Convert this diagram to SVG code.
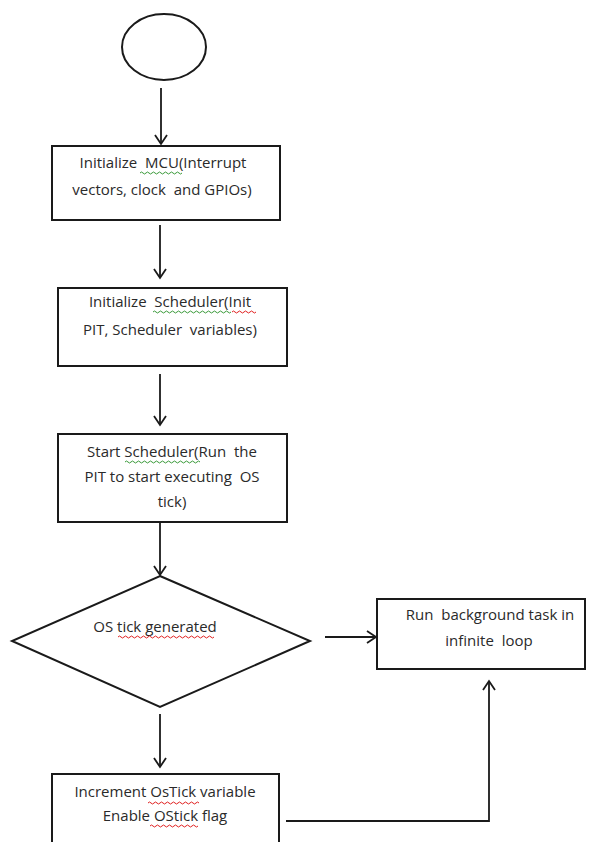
<svg xmlns="http://www.w3.org/2000/svg" width="597" height="842" viewBox="0 0 597 842">
<defs>
<style>
.shape{fill:#fff;stroke:#1a1a1a;stroke-width:2}
.conn{fill:none;stroke:#1a1a1a;stroke-width:1.8}
.t{font-family:"Open Sans","Liberation Sans",Arial,sans-serif;font-size:15px;fill:#2a2a2a;text-anchor:middle;white-space:pre}
.sq-red{fill:none;stroke:#e02020;stroke-width:1}
.sq-green{fill:none;stroke:#3a9a3a;stroke-width:1}
</style>
<marker id="arr" markerWidth="12" markerHeight="14" refX="10" refY="7" orient="auto" markerUnits="userSpaceOnUse">
<path d="M1,1 L10,7 L1,13" fill="none" stroke="#1a1a1a" stroke-width="1.8"/>
</marker>
</defs>
<rect width="597" height="842" fill="#fff"/>

<g id="start">
<ellipse class="shape" cx="164" cy="47" rx="42" ry="33"/>
</g>

<g id="init-mcu">
<rect class="shape" x="52" y="146" width="228" height="74"/>
<text class="t" x="163" y="168" xml:space="preserve">Initialize  MCU(Interrupt</text>
<text class="t" x="162" y="195" xml:space="preserve">vectors, clock  and GPIOs)</text>
<path class="sq-green" d="M140,173 q1.5,-2 3,0 t3,0 t3,0 t3,0 t3,0 t3,0 t3,0 t3,0 t3,0 t3,0 t3,0 t3,0 t3,0 t3,0"/>
</g>

<g id="init-scheduler">
<rect class="shape" x="58" y="288" width="229" height="78"/>
<text class="t" x="170" y="307" xml:space="preserve">Initialize  Scheduler(Init</text>
<text class="t" x="170" y="335" xml:space="preserve">PIT, Scheduler  variables)</text>
<path class="sq-green" d="M153,312 q1.5,-2 3,0 t3,0 t3,0 t3,0 t3,0 t3,0 t3,0 t3,0 t3,0 t3,0 t3,0 t3,0 t3,0 t3,0 t3,0 t3,0 t3,0 t3,0 t3,0 t3,0 t3,0 t3,0 t3,0 t3,0 t3,0 t3,0"/>
<path class="sq-red" d="M232,312 q1.5,-2 3,0 t3,0 t3,0 t3,0 t3,0 t3,0 t3,0 t3,0"/>
</g>

<g id="start-scheduler">
<rect class="shape" x="58" y="434" width="229" height="88"/>
<text class="t" x="172" y="457" xml:space="preserve">Start Scheduler(Run  the</text>
<text class="t" x="172" y="482" xml:space="preserve">PIT to start executing  OS</text>
<text class="t" x="172" y="507">tick)</text>
<path class="sq-green" d="M125,462 q1.5,-2 3,0 t3,0 t3,0 t3,0 t3,0 t3,0 t3,0 t3,0 t3,0 t3,0 t3,0 t3,0 t3,0 t3,0 t3,0 t3,0 t3,0 t3,0 t3,0 t3,0 t3,0 t3,0 t3,0 t3,0 t3,0"/>
</g>

<g id="os-tick-decision">
<polygon class="shape" points="160,576 310,641 160,707 12,641"/>
<text class="t" x="155" y="632">OS tick generated</text>
<path class="sq-red" d="M118,637 q1.5,-2 3,0 t3,0 t3,0 t3,0 t3,0 t3,0 t3,0 t3,0 t3,0 t3,0 t3,0 t3,0 t3,0 t3,0 t3,0 t3,0 t3,0 t3,0 t3,0 t3,0 t3,0 t3,0 t3,0 t3,0 t3,0 t3,0 t3,0 t3,0 t3,0 t3,0 t3,0 t3,0"/>
</g>

<g id="background-task">
<rect class="shape" x="377" y="599" width="208" height="70"/>
<text class="t" x="490" y="620" xml:space="preserve">Run  background task in</text>
<text class="t" x="489" y="646" xml:space="preserve">infinite  loop</text>
</g>

<g id="increment-ostick">
<rect class="shape" x="52" y="774" width="227" height="80"/>
<text class="t" x="165" y="797">Increment OsTick variable</text>
<text class="t" x="165" y="821">Enable OStick flag</text>
<path class="sq-red" d="M148,803 q1.5,-2 3,0 t3,0 t3,0 t3,0 t3,0 t3,0 t3,0 t3,0 t3,0 t3,0 t3,0 t3,0 t3,0 t3,0 t3,0 t3,0 t3,0"/>
<path class="sq-red" d="M150,826 q1.5,-2 3,0 t3,0 t3,0 t3,0 t3,0 t3,0 t3,0 t3,0 t3,0 t3,0 t3,0 t3,0 t3,0 t3,0 t3,0 t3,0"/>
</g>

<g id="connectors">
<line class="conn" x1="161" y1="88" x2="161" y2="144" marker-end="url(#arr)"/>
<line class="conn" x1="160" y1="225" x2="160" y2="278" marker-end="url(#arr)"/>
<line class="conn" x1="160" y1="374" x2="160" y2="425" marker-end="url(#arr)"/>
<line class="conn" x1="160" y1="522" x2="160" y2="575" marker-end="url(#arr)"/>
<line class="conn" x1="325" y1="637" x2="376" y2="637" marker-end="url(#arr)"/>
<line class="conn" x1="160" y1="714" x2="160" y2="767" marker-end="url(#arr)"/>
<polyline class="conn" points="286,821 489,821 489,681" marker-end="url(#arr)"/>
</g>
</svg>
